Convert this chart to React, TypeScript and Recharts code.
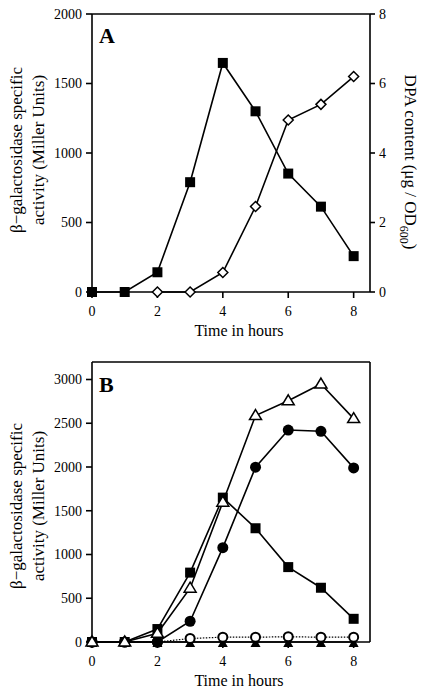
import React from "react";
import {
  Line,
  LineChart,
  ReferenceLine,
  XAxis,
  YAxis,
} from "recharts";

// hours after the start of sporulation
const hours = [0, 1, 2, 3, 4, 5, 6, 7, 8];

// panel A
const aActivity = [0, 0, 142, 790, 1648, 1300, 852, 614, 258];
const aDpa = [null, null, 0, 0, 0.56, 2.46, 4.95, 5.4, 6.2];

// panel B
const bSquares = [0, 0, 148, 793, 1650, 1300, 856, 620, 265];
const bOpenTriangles = [0, 0, 100, 615, 1598, 2588, 2757, 2948, 2553];
const bFilledCircles = [0, 0, 0, 237, 1078, 1998, 2422, 2408, 1990];
const bOpenCircles = [0, 0, 0, 40, 55, 55, 60, 55, 55];
const bFilledTriangles = [0, 0, 0, 0, 0, 0, 0, 0, 0];

const hourTicks = [0, 2, 4, 6, 8];
const aLeftTicks = [0, 500, 1000, 1500, 2000];
const aRightTicks = [0, 2, 4, 6, 8];
const bLeftTicks = [0, 500, 1000, 1500, 2000, 2500, 3000];

const dataA = hours.map((h, i) => ({
  hour: h,
  activity: aActivity[i],
  dpa: aDpa[i],
}));

const dataB = hours.map((h, i) => ({
  hour: h,
  squares: bSquares[i],
  openTri: bOpenTriangles[i],
  filledCircle: bFilledCircles[i],
  openCircle: bOpenCircles[i],
  filledTri: bFilledTriangles[i],
}));

const FONT = "'Liberation Serif', 'Times New Roman', serif";
const tickStyle = { fill: "#000", fontSize: 14, fontFamily: FONT };

const ok = (p: any) => p.cx != null && p.cy != null && !isNaN(p.cx) && !isNaN(p.cy);

const squareDot = (p: any) =>
  ok(p) ? (
    <rect key={`sq-${p.index}`} x={p.cx - 5} y={p.cy - 5} width={10} height={10} fill="#000" />
  ) : (
    <g key={`sq-${p.index}`} />
  );

const diamondDot = (p: any) =>
  ok(p) ? (
    <polygon
      key={`di-${p.index}`}
      points={`${p.cx},${p.cy - 5} ${p.cx + 5},${p.cy} ${p.cx},${p.cy + 5} ${p.cx - 5},${p.cy}`}
      fill="#fff"
      stroke="#000"
      strokeWidth={1.5}
    />
  ) : (
    <g key={`di-${p.index}`} />
  );

const openTriDot = (p: any) =>
  ok(p) ? (
    <polygon
      key={`ot-${p.index}`}
      points={`${p.cx},${p.cy - 6} ${p.cx + 6},${p.cy + 4} ${p.cx - 6},${p.cy + 4}`}
      fill="#fff"
      stroke="#000"
      strokeWidth={1.5}
    />
  ) : (
    <g key={`ot-${p.index}`} />
  );

const filledTriDot = (p: any) =>
  ok(p) ? (
    <polygon
      key={`ft-${p.index}`}
      points={`${p.cx},${p.cy - 4} ${p.cx + 5},${p.cy + 5} ${p.cx - 5},${p.cy + 5}`}
      fill="#000"
    />
  ) : (
    <g key={`ft-${p.index}`} />
  );

const filledCircleDot = (p: any) =>
  ok(p) ? (
    <circle key={`fc-${p.index}`} cx={p.cx} cy={p.cy} r={5.5} fill="#000" />
  ) : (
    <g key={`fc-${p.index}`} />
  );

const openCircleDot = (p: any) =>
  ok(p) ? (
    <circle key={`oc-${p.index}`} cx={p.cx} cy={p.cy} r={4.5} fill="#fff" stroke="#000" strokeWidth={2} />
  ) : (
    <g key={`oc-${p.index}`} />
  );

function leftTitle(cy: number, letter: string, letterY: number) {
  return () => (
    <g fontFamily={FONT} fill="#000">
      <text x={22} y={cy} transform={`rotate(-90, 22, ${cy})`} textAnchor="middle" fontSize={17}>
        β−galactosidase specific
      </text>
      <text x={44} y={cy} transform={`rotate(-90, 44, ${cy})`} textAnchor="middle" fontSize={17}>
        activity (Miller Units)
      </text>
      <text x={99} y={letterY} fontSize={22} fontWeight="bold">
        {letter}
      </text>
    </g>
  );
}

function hoursTitle(y: number) {
  return () => (
    <text x={239} y={y} textAnchor="middle" fontSize={16} fontFamily={FONT} fill="#000">
      Time in hours
    </text>
  );
}

const dpaTitle = () => (
  <text
    x={405}
    y={162}
    transform="rotate(90, 405, 162)"
    textAnchor="middle"
    fontSize={17}
    fontFamily={FONT}
    fill="#000"
  >
    DPA content (μg / OD
    <tspan fontSize={12} dy={5}>600</tspan>
    <tspan dy={-5}>)</tspan>
  </text>
);

export default function App() {
  return (
    <div style={{ position: "absolute", left: 0, top: 0, width: 425, height: 694, background: "#fff" }}>
      <div style={{ position: "absolute", left: 0, top: 0 }}>
        <LineChart width={425} height={340} data={dataA} margin={{ top: 14, right: 0, bottom: 0, left: 0 }}>
          <XAxis
            dataKey="hour"
            type="number"
            domain={[0, 8.5]}
            ticks={hourTicks}
            height={48}
            tick={tickStyle}
            tickSize={6}
            tickMargin={8}
            stroke="#000"
            strokeWidth={1.6}
            label={{ content: hoursTitle(336) }}
          />
          <YAxis
            yAxisId="left"
            domain={[0, 2000]}
            ticks={aLeftTicks}
            width={92}
            tick={tickStyle}
            tickSize={6}
            tickMargin={4}
            stroke="#000"
            strokeWidth={1.6}
            label={{ content: leftTitle(150, "A", 43) }}
          />
          <YAxis
            yAxisId="right"
            orientation="right"
            domain={[0, 8]}
            ticks={aRightTicks}
            width={55}
            tick={tickStyle}
            tickSize={5}
            tickMargin={4}
            stroke="#000"
            strokeWidth={1.6}
            label={{ content: dpaTitle }}
          />
          <ReferenceLine yAxisId="left" y={2000} stroke="#000" strokeWidth={1.6} />
          <Line
            yAxisId="left"
            dataKey="activity"
            stroke="#000"
            strokeWidth={1.6}
            dot={squareDot}
            isAnimationActive={false}
          />
          <Line
            yAxisId="right"
            dataKey="dpa"
            stroke="#000"
            strokeWidth={1.6}
            dot={diamondDot}
            isAnimationActive={false}
          />
        </LineChart>
      </div>
      <div style={{ position: "absolute", left: 0, top: 340 }}>
        <LineChart width={425} height={354} data={dataB} margin={{ top: 22, right: 0, bottom: 0, left: 0 }}>
          <XAxis
            dataKey="hour"
            type="number"
            domain={[0, 8.5]}
            ticks={hourTicks}
            height={52}
            tick={tickStyle}
            tickSize={6}
            tickMargin={8}
            stroke="#000"
            strokeWidth={1.6}
            label={{ content: hoursTitle(346) }}
          />
          <YAxis
            yAxisId="left"
            domain={[0, 3200]}
            ticks={bLeftTicks}
            width={92}
            tick={tickStyle}
            tickSize={6}
            tickMargin={4}
            stroke="#000"
            strokeWidth={1.6}
            label={{ content: leftTitle(166, "B", 52) }}
          />
          <YAxis
            yAxisId="right"
            orientation="right"
            domain={[0, 1]}
            width={55}
            tick={false}
            tickLine={false}
            stroke="#000"
            strokeWidth={1.6}
          />
          <ReferenceLine yAxisId="left" y={3200} stroke="#000" strokeWidth={1.6} />
          <Line
            yAxisId="left"
            dataKey="filledTri"
            stroke="#000"
            strokeWidth={1.6}
            dot={filledTriDot}
            isAnimationActive={false}
          />
          <Line
            yAxisId="left"
            dataKey="openCircle"
            stroke="#000"
            strokeWidth={1.2}
            strokeDasharray="1.5 1.5"
            dot={openCircleDot}
            isAnimationActive={false}
          />
          <Line
            yAxisId="left"
            dataKey="squares"
            stroke="#000"
            strokeWidth={1.6}
            dot={squareDot}
            isAnimationActive={false}
          />
          <Line
            yAxisId="left"
            dataKey="filledCircle"
            stroke="#000"
            strokeWidth={1.6}
            dot={filledCircleDot}
            isAnimationActive={false}
          />
          <Line
            yAxisId="left"
            dataKey="openTri"
            stroke="#000"
            strokeWidth={1.6}
            dot={openTriDot}
            isAnimationActive={false}
          />
        </LineChart>
      </div>
    </div>
  );
}
